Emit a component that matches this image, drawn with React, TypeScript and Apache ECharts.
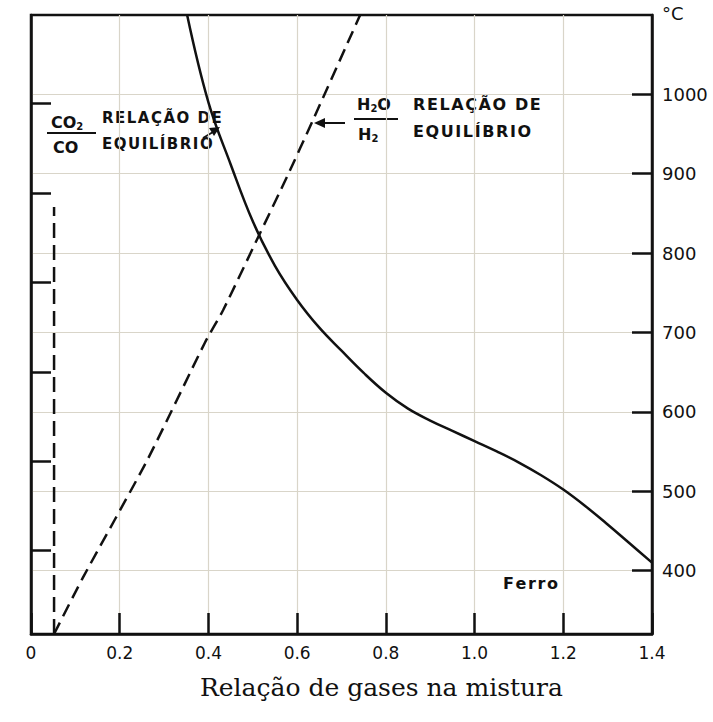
import React, { useEffect, useRef } from "react";
import * as echarts from "echarts";

// CO2/CO equilibrium curve (solid): gas ratio vs temperature (°C)
const co2Ratio = [0.352, 0.4, 0.45, 0.5, 0.55, 0.6, 0.65, 0.7, 0.75, 0.8, 0.85, 0.9, 0.95, 1.0, 1.05, 1.1, 1.15, 1.2, 1.25, 1.3, 1.35, 1.4];
const co2Temp = [1100, 990, 912, 840, 784, 741, 706, 677, 649, 624, 604, 589, 576, 563, 550, 536, 520, 502, 481, 458, 434, 410];

// H2O/H2 equilibrium curve (dashed)
const h2oRatio = [0.052, 0.117, 0.262, 0.392, 0.433, 0.512, 0.577, 0.636, 0.742];
const h2oTemp = [320, 391, 539, 687, 728, 820, 896, 968, 1100];

// vertical dashed boundary
const vRatio = [0.052, 0.052];
const vTemp = [320, 858];

const tempTicks = [400, 500, 600, 700, 800, 900, 1000];
const leftTicks = [0.93, 1.93, 2.92, 3.92, 4.91, 5.92];

const sansFont = "DejaVu Sans";
const HS = "\u200A";
const spaced = (s: string) => s.split("").join(HS);

export default function App() {
  const ref = useRef<HTMLDivElement>(null);
  useEffect(() => {
    if (!ref.current) return;
    const chart = echarts.init(ref.current, null, { renderer: "svg" });
    const pair = (xs: number[], ys: number[]) => xs.map((x, i) => [x, ys[i]]);
    const gridColor = "#d9d5c9";
    const sub = { font: `bold 10px ${sansFont}`, fill: "#111", padding: [9, 0, 0, 0] };
    const label = (x: number, y: number, text: string, size: number, rich?: any) => ({
      type: "text",
      x,
      y,
      style: {
        text,
        font: `bold ${size}px ${sansFont}`,
        fill: "#111",
        verticalAlign: "middle",
        align: "left",
        rich,
      },
    });
    chart.setOption({
      animation: false,
      backgroundColor: "#ffffff",
      grid: {
        left: 31,
        top: 15,
        right: 61,
        bottom: 88,
        show: true,
        borderColor: "#111",
        borderWidth: 2.5,
        containLabel: false,
      },
      xAxis: {
        type: "value",
        min: 0,
        max: 1.4,
        interval: 0.2,
        axisLine: { show: true, lineStyle: { color: "#111", width: 2.5 } },
        axisTick: { show: true, inside: true, length: 21, lineStyle: { color: "#111", width: 2.5 } },
        axisLabel: {
          color: "#111",
          fontFamily: sansFont,
          fontSize: 17,
          margin: 10,
          formatter: (v: number) => (v === 0 ? "0" : v.toFixed(1)),
        },
        splitLine: { show: true, lineStyle: { color: gridColor, width: 1.2 } },
      },
      yAxis: [
        {
          type: "value",
          position: "left",
          min: 0,
          max: 6.9,
          axisLine: { show: true, lineStyle: { color: "#111", width: 2.5 } },
          axisTick: {
            show: true,
            inside: true,
            length: 20,
            customValues: leftTicks,
            lineStyle: { color: "#111", width: 2.5 },
          },
          axisLabel: { show: false },
          splitLine: { show: false },
        },
        {
          type: "value",
          position: "right",
          min: 320,
          max: 1100,
          axisLine: { show: true, lineStyle: { color: "#111", width: 2.5 } },
          axisTick: {
            show: true,
            inside: true,
            length: 20,
            customValues: tempTicks,
            lineStyle: { color: "#111", width: 2.5 },
          },
          axisLabel: {
            color: "#111",
            fontFamily: sansFont,
            fontSize: 18,
            margin: 10,
            customValues: tempTicks,
            formatter: (v: number) => String(v),
          },
          splitLine: { show: true, lineStyle: { color: gridColor, width: 1.2 } },
        },
      ],
      series: [
        {
          type: "line",
          yAxisIndex: 1,
          data: pair(co2Ratio, co2Temp),
          smooth: 0.4,
          symbol: "none",
          lineStyle: { color: "#111", width: 2.5 },
        },
        {
          type: "line",
          yAxisIndex: 1,
          data: pair(h2oRatio, h2oTemp),
          smooth: 0.2,
          symbol: "none",
          lineStyle: { color: "#111", width: 2.5, type: [13, 7] },
        },
        {
          type: "line",
          yAxisIndex: 1,
          data: pair(vRatio, vTemp),
          symbol: "none",
          lineStyle: { color: "#111", width: 2.5, type: [15, 7] },
        },
      ],
      graphic: [
        // °C unit
        { type: "text", left: 662, top: 4, style: { text: "°C", font: `18px ${sansFont}`, fill: "#111" } },
        // CO2/CO annotation
        label(51, 122, "CO{s|2}", 16, { s: sub }),
        { type: "line", shape: { x1: 47, y1: 133, x2: 96, y2: 133 }, style: { stroke: "#111", lineWidth: 2 } },
        label(53, 147, "CO", 16),
        label(102, 118, spaced("RELAÇÃO DE"), 15),
        label(102, 144, spaced("EQUILÍBRIO"), 15),
        { type: "line", shape: { x1: 203, y1: 138, x2: 213, y2: 132 }, style: { stroke: "#111", lineWidth: 2 } },
        { type: "polygon", shape: { points: [[220, 127], [209, 128], [214, 136]] }, style: { fill: "#111" } },
        // H2O/H2 annotation
        label(357, 104, "H{s|2}O", 16, { s: sub }),
        { type: "line", shape: { x1: 354, y1: 119, x2: 398, y2: 119 }, style: { stroke: "#111", lineWidth: 2 } },
        label(358, 134, "H{s|2}", 16, { s: sub }),
        label(413, 104, spaced("RELAÇÃO DE"), 16),
        label(413, 131, spaced("EQUILÍBRIO"), 16),
        { type: "line", shape: { x1: 345, y1: 123, x2: 322, y2: 123 }, style: { stroke: "#111", lineWidth: 2 } },
        { type: "polygon", shape: { points: [[314, 123], [325, 118], [325, 128]] }, style: { fill: "#111" } },
        // Ferro label
        label(503, 583, spaced("Ferro"), 16),
        // x-axis title
        {
          type: "text",
          left: 200,
          top: 675,
          style: { text: "Relação de gases na mistura", font: `25px "DejaVu Serif"`, fill: "#111" },
        },
      ],
    });
    return () => chart.dispose();
  }, []);
  return <div ref={ref} style={{ position: "fixed", left: 0, top: 0, width: 713, height: 722 }} />;
}
